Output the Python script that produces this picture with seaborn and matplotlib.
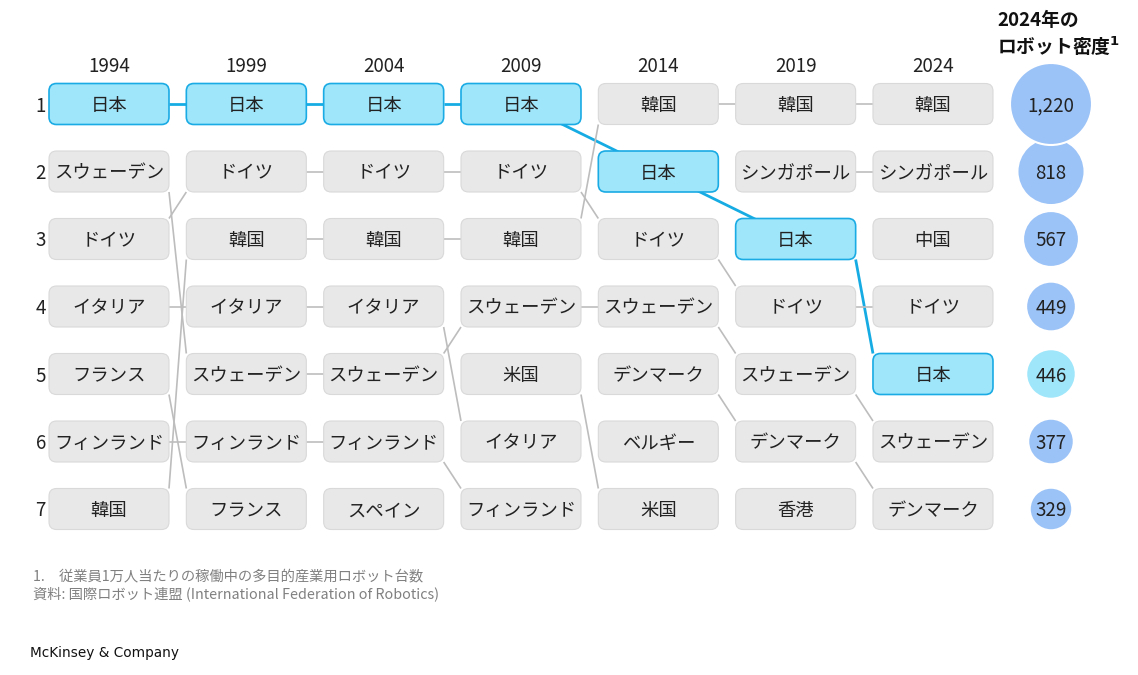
import numpy as np
import pandas as pd
import matplotlib
matplotlib.use('Agg')
import matplotlib.pyplot as plt
from matplotlib.patches import FancyBboxPatch
import seaborn as sns

# ─────────────────────────────────────────
# DATA
# ─────────────────────────────────────────
years = ['1994', '1999', '2004', '2009', '2014', '2019', '2024']

rank_1994 = ['日本', 'スウェーデン', 'ドイツ', 'イタリア', 'フランス', 'フィンランド', '韓国']
rank_1999 = ['日本', 'ドイツ', '韓国', 'イタリア', 'スウェーデン', 'フィンランド', 'フランス']
rank_2004 = ['日本', 'ドイツ', '韓国', 'イタリア', 'スウェーデン', 'フィンランド', 'スペイン']
rank_2009 = ['日本', 'ドイツ', '韓国', 'スウェーデン', '米国', 'イタリア', 'フィンランド']
rank_2014 = ['韓国', '日本', 'ドイツ', 'スウェーデン', 'デンマーク', 'ベルギー', '米国']
rank_2019 = ['韓国', 'シンガポール', '日本', 'ドイツ', 'スウェーデン', 'デンマーク', '香港']
rank_2024 = ['韓国', 'シンガポール', '中国', 'ドイツ', '日本', 'スウェーデン', 'デンマーク']

density_2024 = [1220, 818, 567, 449, 446, 377, 329]

highlight = '日本'

rankings = [rank_1994, rank_1999, rank_2004, rank_2009, rank_2014, rank_2019, rank_2024]

# ─────────────────────────────────────────
# STYLE
# ─────────────────────────────────────────
sns.set_theme(style='white')
plt.rcParams['font.family'] = ['Noto Sans CJK JP', 'DejaVu Sans']

GRAY_FILL = '#e8e8e8'
GRAY_EDGE = '#d9d9d9'
GRAY_LINE = '#bdbdbd'
JP_FILL = '#9fe6fb'
JP_EDGE = '#1aabe4'
JP_LINE = '#16ace3'
BUBBLE = '#9cc3f7'
TEXT = '#222222'

# layout in data units: x = column index, y = rank
px_x = 137.33          # pixels per column
px_y = 67.5            # pixels per rank
box_w = 120 / px_x
box_h = 41 / px_y
bubble_x = (1051 - 109) / px_x
txt_dy = 2 / px_y      # nudge CJK text down to sit centred

fig = plt.figure(figsize=(11.38, 6.75), dpi=100)
ax = fig.add_axes([0, 0, 1, 1])

# ─────────────────────────────────────────
# CONNECTING LINES
# ─────────────────────────────────────────
for c in range(len(rankings) - 1):
    left, right = rankings[c], rankings[c + 1]
    for name in left:
        if name not in right:
            continue
        r0 = left.index(name) + 1
        r1 = right.index(name) + 1
        is_jp = name == highlight
        if is_jp and abs(r1 - r0) == 1:
            xs = [c, c + 1]
            ys = [r0, r1]
        else:
            s = np.sign(r1 - r0)
            xs = [c + box_w / 2, c + 1 - box_w / 2]
            ys = [r0 + s * box_h / 2, r1 - s * box_h / 2]
        ax.plot(xs, ys, color=JP_LINE if is_jp else GRAY_LINE,
                lw=2.0 if is_jp else 1.2, zorder=1, solid_capstyle='butt')

# ─────────────────────────────────────────
# BOXES
# ─────────────────────────────────────────
for c, col in enumerate(rankings):
    for r, name in enumerate(col, start=1):
        is_jp = name == highlight
        box = FancyBboxPatch((c - box_w / 2, r - box_h / 2), box_w, box_h,
                             boxstyle='round,pad=0,rounding_size=0.055',
                             mutation_aspect=px_x / px_y,
                             fc=JP_FILL if is_jp else GRAY_FILL,
                             ec=JP_EDGE if is_jp else GRAY_EDGE,
                             lw=1.2 if is_jp else 0.8, zorder=2)
        ax.add_patch(box)
        ax.text(c, r + txt_dy, name, ha='center', va='center', fontsize=13.2,
                color=TEXT, zorder=3)

# year labels and ranks
for c, yr in enumerate(years):
    ax.text(c, 1 - 38 / px_y, yr, ha='center', va='center', fontsize=13.5, color=TEXT)
for r in range(1, 8):
    ax.text(-0.46, r + txt_dy, str(r), ha='right', va='center', fontsize=13.5, color=TEXT)

# ─────────────────────────────────────────
# BUBBLES (robot density 2024)
# ─────────────────────────────────────────
bub = pd.DataFrame({
    'x': [bubble_x] * len(density_2024),
    'rank': np.arange(1, len(density_2024) + 1),
    'density': density_2024,
    'country': rank_2024,
})
bub['color'] = np.where(bub['country'] == highlight, JP_FILL, BUBBLE)
bub = bub.iloc[::-1]  # largest drawn on top

max_s = (2 * 41 * 72 / 100) ** 2
sns.scatterplot(data=bub, x='x', y='rank', size='density',
                sizes=(0, max_s), size_norm=(0, 1220),
                hue='country', palette=dict(zip(bub['country'], bub['color'])),
                edgecolor='white', linewidth=1.5, legend=False, ax=ax, zorder=2)

for r, v in zip(bub['rank'], bub['density']):
    ax.text(bubble_x, r + txt_dy, f'{v:,}', ha='center', va='center', fontsize=13.5,
            color=TEXT, zorder=4)

ax.set_xlim(-109 / px_x, (1138 - 109) / px_x)
ax.set_ylim(1 + (675 - 104) / px_y, 1 - 104 / px_y)
ax.axis('off')

# ─────────────────────────────────────────
# HEADER AND NOTES
# ─────────────────────────────────────────
fig.text(997 / 1138, 1 - 20 / 675, '2024年の', ha='left', va='center',
         fontsize=13.5, fontweight='bold', color='#111111')
fig.text(997 / 1138, 1 - 46 / 675, 'ロボット密度$^{\\mathbf{1}}$', ha='left', va='center',
         fontsize=13.5, fontweight='bold', color='#111111')

fig.text(33 / 1138, 1 - 576 / 675, '1.　従業員1万人当たりの稼働中の多目的産業用ロボット台数',
         ha='left', va='center', fontsize=10.3, color='#808080')
fig.text(33 / 1138, 1 - 594 / 675, '資料: 国際ロボット連盟 (International Federation of Robotics)',
         ha='left', va='center', fontsize=10.3, color='#808080')
fig.text(30 / 1138, 1 - 653 / 675, 'McKinsey & Company', ha='left', va='center',
         fontsize=9.8, color='#111111', family=['DejaVu Sans'])

fig.savefig('out.png', dpi=100, facecolor='white')
plt.close(fig)
